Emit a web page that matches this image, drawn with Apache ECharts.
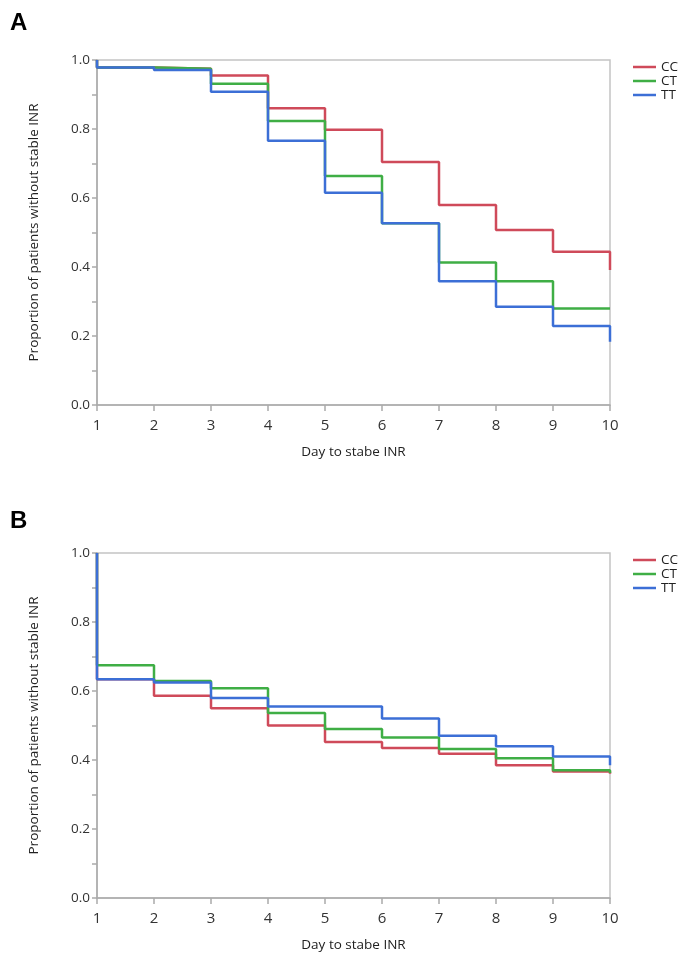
<!DOCTYPE html>
<html>
<head>
<meta charset="utf-8">
<script src="https://cdn.jsdelivr.net/npm/echarts@6/dist/echarts.min.js"></script>
<style>
html,body{margin:0;padding:0;background:#fff;overflow:hidden;}
#chart{width:691px;height:957px;}
</style>
</head>
<body>
<div id="chart"></div>
<script>
// Day (x) at which each step occurs
const daysA = [1, 1, 2, 3, 4, 5, 6, 7, 8, 9, 10];
const ccA = [1.0, 0.978, 0.975, 0.955, 0.860, 0.798, 0.704, 0.580, 0.507, 0.444, 0.391];
const ctA = [1.0, 0.978, 0.975, 0.931, 0.823, 0.664, 0.527, 0.413, 0.359, 0.280, 0.278];
const ttA = [1.0, 0.978, 0.971, 0.908, 0.766, 0.615, 0.527, 0.359, 0.285, 0.229, 0.183];

const daysB = [1, 1, 2, 3, 4, 5, 6, 7, 8, 9, 10];
const ccB = [1.0, 0.634, 0.586, 0.550, 0.500, 0.452, 0.435, 0.418, 0.385, 0.367, 0.360];
const ctB = [1.0, 0.675, 0.629, 0.608, 0.536, 0.490, 0.465, 0.432, 0.405, 0.370, 0.362];
const ttB = [1.0, 0.634, 0.625, 0.580, 0.555, 0.555, 0.520, 0.470, 0.440, 0.410, 0.385];

const groups = ['CC', 'CT', 'TT'];
const colors = ['#cf4a5a', '#3fae45', '#3c6fd6'];
const xName = 'Day to stabe INR';
const yName = 'Proportion of patients without stable INR';

const font = 'Open Sans, Noto Sans, sans-serif';
const chart = echarts.init(document.getElementById('chart'), null, {renderer: 'canvas'});

function pairs(xs, ys) { return xs.map((x, i) => [x, ys[i]]); }

const grids = [
  {left: 97, top: 60, width: 513, height: 345, show: true, borderColor: '#c4c4c4', borderWidth: 1.5, backgroundColor: '#fff'},
  {left: 97, top: 553, width: 513, height: 345, show: true, borderColor: '#c4c4c4', borderWidth: 1.5, backgroundColor: '#fff'}
];

function xAxis(gi) {
  return {
    type: 'value', gridIndex: gi, min: 1, max: 10, interval: 1,
    name: xName, nameLocation: 'middle', nameGap: 40,
    nameTextStyle: {fontFamily: font, fontSize: 13.5, color: '#222'},
    axisLine: {lineStyle: {color: '#aaa', width: 1.5}},
    axisTick: {show: true, length: 6, lineStyle: {color: '#aaa', width: 1.5}},
    axisLabel: {fontFamily: font, fontSize: 15, color: '#333', margin: 13},
    splitLine: {show: false}
  };
}
function yAxis(gi) {
  return {
    type: 'value', gridIndex: gi, min: 0, max: 1, interval: 0.2,
    name: yName, nameLocation: 'middle', nameGap: 56,
    nameTextStyle: {fontFamily: font, fontSize: 13.5, color: '#222'},
    axisLine: {show: true, lineStyle: {color: '#aaa', width: 1.5}},
    axisTick: {show: true, length: 5, lineStyle: {color: '#aaa', width: 1.5}},
    minorTick: {show: true, splitNumber: 2, length: 5, lineStyle: {color: '#aaa', width: 1.5}},
    axisLabel: {fontFamily: font, fontSize: 13.5, color: '#333', margin: 7,
      formatter: v => v.toFixed(1)},
    splitLine: {show: false}
  };
}

const dataA = [ccA, ctA, ttA];
const dataB = [ccB, ctB, ttB];
const series = [];
groups.forEach((g, i) => {
  series.push({name: g, type: 'line', step: 'end', xAxisIndex: 0, yAxisIndex: 0,
    data: pairs(daysA, dataA[i]), symbol: 'none', lineStyle: {width: 2.5, color: colors[i]},
    itemStyle: {color: colors[i]}, animation: false});
});
groups.forEach((g, i) => {
  series.push({name: g, type: 'line', step: 'end', xAxisIndex: 1, yAxisIndex: 1,
    data: pairs(daysB, dataB[i]), symbol: 'none', lineStyle: {width: 2.5, color: colors[i]},
    itemStyle: {color: colors[i]}, animation: false});
});

function legend(top) {
  return {
    data: groups, orient: 'vertical', left: 633, top: top, padding: 0, width: 50,
    icon: 'rect', itemWidth: 23, itemHeight: 2.5, itemGap: 0,
    textStyle: {fontFamily: font, fontSize: 13.5, color: '#222', overflow: 'none'},
    selectedMode: false
  };
}

chart.setOption({
  backgroundColor: '#fff',
  animation: false,
  title: [
    {text: 'A', left: 5, top: 6, textStyle: {fontFamily: 'Liberation Sans, Arial, sans-serif', fontSize: 24, fontWeight: 'bold', color: '#000'}},
    {text: 'B', left: 5, top: 504, textStyle: {fontFamily: 'Liberation Sans, Arial, sans-serif', fontSize: 24, fontWeight: 'bold', color: '#000'}}
  ],
  legend: [legend(60), legend(553)],
  grid: grids,
  xAxis: [xAxis(0), xAxis(1)],
  yAxis: [yAxis(0), yAxis(1)],
  series: series
});
</script>
</body>
</html>
